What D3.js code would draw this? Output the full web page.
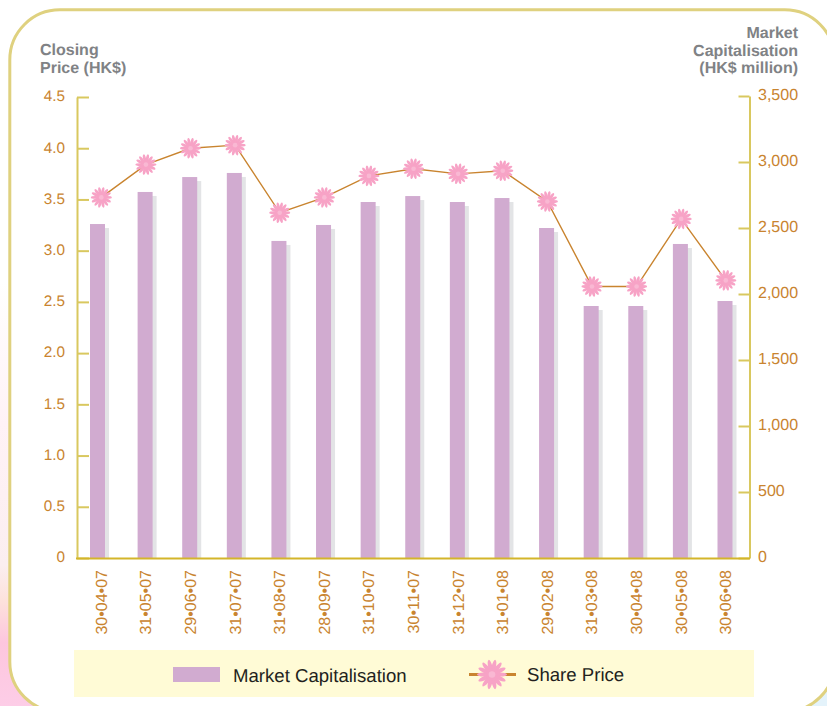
<!DOCTYPE html>
<html><head><meta charset="utf-8">
<script src="https://cdn.jsdelivr.net/npm/d3@7"></script>
<style>html,body{margin:0;padding:0;background:#fff}svg{display:block}text{font-family:"Liberation Sans",Arial,sans-serif;text-rendering:geometricPrecision}</style>
</head><body><svg id="c" width="827" height="706"></svg>
<script>
const dates = ["30•04•07","31•05•07","29•06•07","31•07•07","31•08•07","28•09•07","31•10•07","30•11•07","31•12•07","31•01•08","29•02•08","31•03•08","30•04•08","30•05•08","30•06•08"];
const marketCap = [2530,2773,2886,2917,2402,2523,2697,2742,2697,2727,2500,1909,1909,2379,1947];
const sharePrice = [3.52,3.84,4.00,4.03,3.37,3.52,3.73,3.80,3.75,3.78,3.48,2.65,2.65,3.31,2.71];
const priceTicks = [0,0.5,1,1.5,2,2.5,3,3.5,4,4.5];
const capTicks = [0,500,1000,1500,2000,2500,3000,3500];
const leftTitle = ["Closing","Price (HK$)"];
const rightTitle = ["Market","Capitalisation","(HK$ million)"];
const legendLabels = ["Market Capitalisation","Share Price"];

const svg = d3.select("#c");
const defs = svg.append("defs");
const gl = defs.append("linearGradient").attr("id","bgL").attr("x1",0).attr("x2",0).attr("y1",0).attr("y2",1);
[[0,"#ffffff"],[0.4,"#ffffff"],[0.6,"#fff2f6"],[0.8,"#fbeef0"],[0.85,"#fde2dc"],[0.91,"#fdc6de"],[1,"#fdcde7"]].forEach(s=>gl.append("stop").attr("offset",s[0]).attr("stop-color",s[1]));
svg.append("rect").attr("width",827).attr("height",706).attr("fill","url(#bgL)");
svg.append("rect").attr("x",700).attr("y",600).attr("width",127).attr("height",106).attr("fill","#e4f3fb");
svg.append("rect").attr("x",9.8).attr("y",9.8).attr("width",825).attr("height",702).attr("rx",50).attr("fill","#fff").attr("stroke","#dfd17f").attr("stroke-width",3);

const y0=558;
const yL = d3.scaleLinear().domain([0,4.5]).range([y0,97]);
const yR = d3.scaleLinear().domain([0,3500]).range([y0,96]);
const x = d3.scalePoint().domain(dates).range([100.5,725]);
const barW=15, shadow=4, markerShift=0.8;
const barX = (d,i)=> x(d) - barW/2 - (i===0?3:0);

const rows = dates.map((d,i)=>({d,i,cap:marketCap[i],price:sharePrice[i]}));
svg.append("g").selectAll("rect").data(rows).join("rect")
 .attr("x",r=>barX(r.d,r.i)+shadow).attr("y",r=>yR(r.cap)+shadow).attr("width",barW).attr("height",r=>y0-yR(r.cap)-shadow).attr("fill","#e3e4e6");
svg.append("g").selectAll("rect").data(rows).join("rect")
 .attr("x",r=>barX(r.d,r.i)).attr("y",r=>yR(r.cap)).attr("width",barW).attr("height",r=>y0-yR(r.cap)).attr("fill","#d1abd0");

const axisCol="#d9c85f", tickCol="#c9842f";
function style(g,size){
  g.selectAll("path").attr("stroke",axisCol).attr("stroke-width",2);
  g.selectAll("line").attr("stroke",axisCol).attr("stroke-width",2);
  g.selectAll("text").attr("fill",tickCol).attr("font-size",size).attr("font-family",'"Liberation Sans",Arial,sans-serif');
}
const axL = svg.append("g").attr("transform","translate(77,0)")
 .call(d3.axisLeft(yL).tickValues(priceTicks).tickSizeInner(-12).tickSizeOuter(0).tickPadding(12).tickFormat(d=>d===0?"0":d3.format(".1f")(d))).call(style,15.3);
axL.selectAll("text").attr("dy","0.25em");
const axR = svg.append("g").attr("transform","translate(749.5,0)")
 .call(d3.axisRight(yR).tickValues(capTicks).tickSizeInner(-11).tickSizeOuter(0).tickPadding(8.5).tickFormat(d3.format(","))).call(style,16);
axR.selectAll("text").attr("dy","0.22em");
const axB = svg.append("g").attr("transform",`translate(0,${y0})`)
 .call(d3.axisBottom(x).tickSize(0).tickPadding(0)).call(style,16);
axB.select("path").attr("d","M76,0.5H750").attr("stroke","#d4b52a");
axB.selectAll("text").attr("text-anchor","end").attr("dy",null).attr("y",null)
 .attr("transform","translate(0,12) rotate(-90) translate(0,5.7)");

const line = d3.line().x(r=>x(r.d)+markerShift).y(r=>yL(r.price));
svg.append("path").datum(rows).attr("d",line).attr("fill","none").attr("stroke","#c9842f").attr("stroke-width",1.4);

function flower(g,r){
  const n=14;
  d3.range(n).forEach(k=>{
    g.append("ellipse").attr("cx",r*0.55).attr("cy",0).attr("rx",r*0.45).attr("ry",r*0.14)
     .attr("transform",`rotate(${k*360/n})`).attr("fill","#f7a3c6");
  });
  g.append("circle").attr("r",r*0.4).attr("fill","#f7a3c6");
  g.append("circle").attr("r",r*0.22).attr("fill","#f9b8d3");
}
svg.append("g").selectAll("g").data(rows).join("g")
 .attr("transform",r=>`translate(${x(r.d)+markerShift},${yL(r.price)})`).each(function(){flower(d3.select(this),10.5)});

svg.append("g").selectAll("text").data(leftTitle).join("text")
 .attr("x",40).attr("y",(d,i)=>55+i*17.5).text(d=>d).attr("font-size",16).attr("font-weight","bold").attr("fill","#808285");
svg.append("g").selectAll("text").data(rightTitle).join("text")
 .attr("x",798).attr("y",(d,i)=>38+i*17.5).attr("text-anchor","end").text(d=>d).attr("font-size",16).attr("font-weight","bold").attr("fill","#808285");

const leg = svg.append("g");
leg.append("rect").attr("x",74).attr("y",650).attr("width",680).attr("height",47).attr("fill","#fffbd6");
leg.append("rect").attr("x",173).attr("y",667).attr("width",47).attr("height",15).attr("fill","#d1abd0");
leg.append("text").attr("x",233).attr("y",681.5).text(legendLabels[0]).attr("font-size",18.6).attr("fill","#231f20");
leg.append("line").attr("x1",469).attr("x2",516).attr("y1",674.5).attr("y2",674.5).attr("stroke","#c9842f").attr("stroke-width",3);
flower(leg.append("g").attr("transform","translate(492,674.5)"),15);
leg.append("text").attr("x",527).attr("y",681).text(legendLabels[1]).attr("font-size",18.6).attr("fill","#231f20");
</script></body></html>
